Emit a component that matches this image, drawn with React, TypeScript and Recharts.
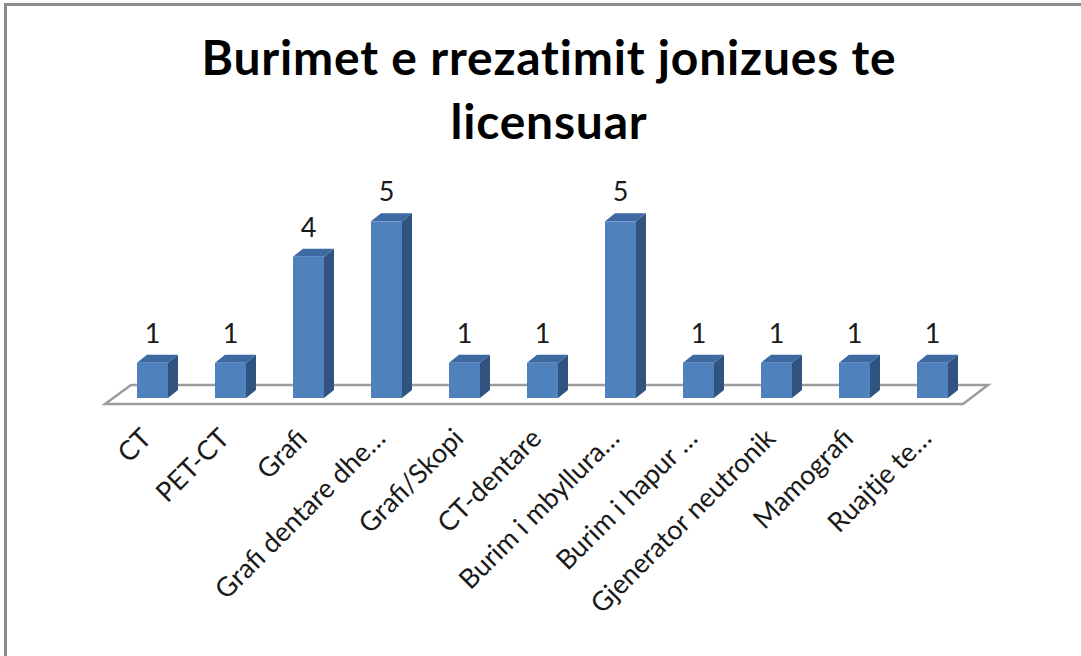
import { BarChart, Bar, XAxis, YAxis, LabelList, ReferenceLine } from "recharts";

const categories = [
    "CT",
    "PET-CT",
    "Grafi",
    "Grafi dentare dhe…",
    "Grafi/Skopi",
    "CT-dentare",
    "Burim i mbyllura…",
    "Burim i hapur …",
    "Gjenerator neutronik",
    "Mamografi",
    "Ruajtje te…",
];
const counts = [1, 1, 4, 5, 1, 1, 5, 1, 1, 1, 1];
const yTicks = [0, 1, 2, 3, 4, 5, 6];

const data = categories.map((name, i) => ({ name, count: counts[i] }));

const FONT = "Lato, 'Open Sans', sans-serif";

// front face + side + top, like the old excel 3d columns
const Column3D = (props: any) => {
    const { x, y, width, height } = props;
    const dx = 10;
    const dy = 8;
    if (height <= 0) return null;
    return (
        <g>
            <polygon
                points={`${x + width},${y} ${x + width + dx},${y - dy} ${x + width + dx},${y + height - dy} ${x + width},${y + height}`}
                fill="#30547f"
            />
            <polygon
                points={`${x},${y} ${x + dx},${y - dy} ${x + width + dx},${y - dy} ${x + width},${y}`}
                fill="#3d6aa2"
            />
            <rect x={x} y={y} width={width} height={height} fill="#4f81bd" />
        </g>
    );
};

// floor of the 3d plot, drawn from the zero line
const Floor = (props: any) => {
    const { x1, x2, y1 } = props;
    const front = y1 + 6;
    const back = y1 - 13;
    return (
        <polygon
            points={`${x1 - 8},${front} ${x1 + 18},${back} ${x2 + 17},${back} ${x2 - 8},${front}`}
            fill="#fff"
            stroke="#9c9c9c"
            strokeWidth={2.5}
        />
    );
};

const AngledTick = (props: any) => {
    const { x, y, payload } = props;
    const tx = x + 1;
    const ty = y + 42;
    return (
        <text
            x={tx}
            y={ty}
            transform={`rotate(-45, ${tx}, ${ty})`}
            textAnchor="end"
            fontSize={27}
            fontFamily={FONT}
            fill="#1a1a1a"
        >
            {payload.value}
        </text>
    );
};

const ValueLabel = (props: any) => {
    const { x, y, width, value } = props;
    return (
        <text x={x + width / 2} y={y - 20} textAnchor="middle" fontSize={27} fontFamily={FONT} fill="#1a1a1a">
            {value}
        </text>
    );
};

export default function App() {
    return (
        <div style={{ position: "absolute", left: 0, top: 0, width: 1081, height: 656, overflow: "hidden", background: "#fff" }}>
            <div
                style={{
                    position: "absolute",
                    left: 4,
                    top: 3,
                    width: 1077,
                    height: 653,
                    boxSizing: "border-box",
                    borderLeft: "3px solid #8c8c8c",
                    borderTop: "3px solid #8c8c8c",
                }}
            />
            <div
                style={{
                    position: "absolute",
                    left: 0,
                    top: 25,
                    width: 1098,
                    textAlign: "center",
                    fontFamily: FONT,
                    fontWeight: 700,
                    fontSize: 48,
                    letterSpacing: 0.8,
                    lineHeight: "64px",
                    color: "#000",
                }}
            >
                Burimet e rrezatimit jonizues te
                <br />
                licensuar
            </div>
            <div style={{ position: "absolute", left: 0, top: 0 }}>
                <BarChart width={1081} height={656} data={data} margin={{ top: 186, right: 110, bottom: 228, left: 113 }}>
                    <ReferenceLine y={0} shape={Floor} zIndex={-100} ifOverflow="visible" />
                    <XAxis
                        dataKey="name"
                        height={30}
                        interval={0}
                        axisLine={false}
                        tickLine={false}
                        tickSize={0}
                        tickMargin={0}
                        tick={AngledTick}
                    />
                    <YAxis hide domain={[0, 6]} ticks={yTicks} />
                    <Bar dataKey="count" barSize={31} shape={Column3D} isAnimationActive={false}>
                        <LabelList dataKey="count" content={ValueLabel} />
                    </Bar>
                </BarChart>
            </div>
        </div>
    );
}
